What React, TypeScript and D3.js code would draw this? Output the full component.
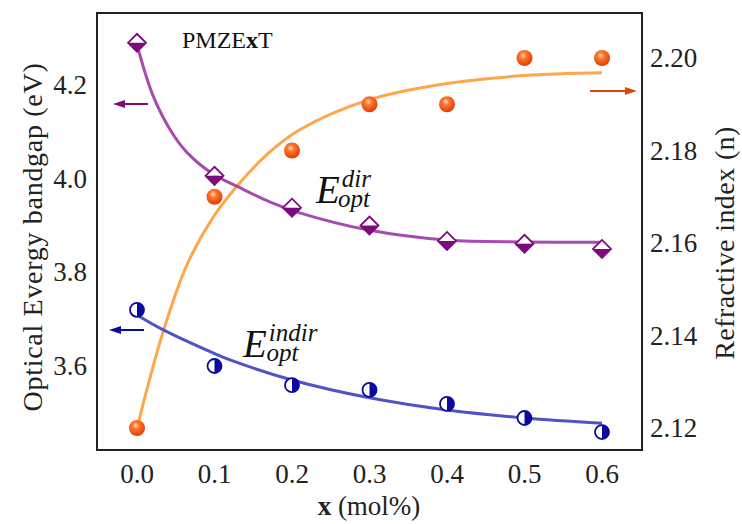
import React from "react";
import * as d3 from "d3";

// measured points
const xs = [0, 0.1, 0.2, 0.3, 0.4, 0.5, 0.6];
const eDir = [4.29, 4.006, 3.938, 3.9, 3.867, 3.861, 3.85];
const eIndir = [3.72, 3.6, 3.559, 3.549, 3.519, 3.489, 3.459];
const refIdx = [2.12, 2.17, 2.18, 2.19, 2.19, 2.2, 2.2];

// fitted curves
const dirFitX = [0, 0.02, 0.043, 0.065, 0.098, 0.13, 0.172, 0.21, 0.297, 0.4, 0.5, 0.6];
const dirFitY = [4.286, 4.18, 4.104, 4.055, 4.01, 3.983, 3.95, 3.927, 3.891, 3.869, 3.865, 3.864];
const indirFitX = [0, 0.034, 0.098, 0.12, 0.2, 0.3, 0.4, 0.5, 0.6];
const indirFitY = [3.709, 3.677, 3.628, 3.613, 3.57, 3.532, 3.506, 3.489, 3.478];
const refFitX = [0, 0.034, 0.065, 0.1, 0.13, 0.17, 0.21, 0.3, 0.4, 0.5, 0.6];
const refFitY = [2.12, 2.141, 2.1555, 2.166, 2.1725, 2.1795, 2.1845, 2.191, 2.1945, 2.1962, 2.1968];

const xTicks = [0, 0.1, 0.2, 0.3, 0.4, 0.5, 0.6];
const leftTicks = [3.6, 3.8, 4.0, 4.2];
const rightTicks = [2.12, 2.14, 2.16, 2.18, 2.2];

const W = 742;
const H = 524;
const frame = { left: 97, top: 13, right: 642, bottom: 450 };

const x = d3.scaleLinear().domain([0, 0.6]).range([137, 602]);
const yL = d3.scaleLinear().domain([3.6, 4.2]).range([366, 85]);
const yR = d3.scaleLinear().domain([2.12, 2.2]).range([428, 58]);

const tf = { fontFamily: '"Liberation Serif", "Times New Roman", serif' };

const Diamond = ({ cx, cy }: { cx: number; cy: number }) => {
  const w = 9;
  const h = 9;
  return (
    <g transform={`translate(${cx},${cy})`}>
      <path d={`M${-w},0L0,${-h}L${w},0Z`} fill="#fff" />
      <path d={`M${-w},0L0,${h}L${w},0Z`} fill="#7d0a7d" />
      <path d={`M${-w},0L0,${-h}L${w},0L0,${h}Z`} fill="none" stroke="#7d0a7d" strokeWidth={1.8} />
    </g>
  );
};

const HalfCircle = ({ cx, cy }: { cx: number; cy: number }) => {
  const r = 7;
  return (
    <g transform={`translate(${cx},${cy})`}>
      <circle r={r} fill="#fff" stroke="#0a0aa0" strokeWidth={1.8} />
      <path d={`M0,${-r}A${r},${r} 0 0 1 0,${r}Z`} fill="#0a0aa0" />
    </g>
  );
};

const Arrow = ({ x1, x2, y, color }: { x1: number; x2: number; y: number; color: string }) => {
  const dir = Math.sign(x2 - x1);
  return (
    <g>
      <line x1={x1} x2={x2 - dir * 8} y1={y} y2={y} stroke={color} strokeWidth={2} />
      <path d={`M${x2},${y}L${x2 - dir * 12},${y - 4}L${x2 - dir * 12},${y + 4}Z`} fill={color} />
    </g>
  );
};

// E with stacked superscript / subscript, as one text element
const ELabel = ({ x0, y0, sup, subShift }: { x0: number; y0: number; sup: string; subShift: number }) => (
  <text x={x0} y={y0} fontSize={39} fontStyle="italic" fill="#111" style={tf}>
    E
    <tspan fontSize={25} dx={2} dy={-16}>{sup}</tspan>
    <tspan fontSize={25} dx={subShift} dy={20}>opt</tspan>
  </text>
);

export default function App() {
  const lineL = d3
    .line<[number, number]>()
    .x((d) => x(d[0]))
    .y((d) => yL(d[1]))
    .curve(d3.curveCatmullRom);
  const lineR = d3
    .line<[number, number]>()
    .x((d) => x(d[0]))
    .y((d) => yR(d[1]))
    .curve(d3.curveCatmullRom);

  const dirFit = dirFitX.map((v, i) => [v, dirFitY[i]] as [number, number]);
  const indirFit = indirFitX.map((v, i) => [v, indirFitY[i]] as [number, number]);
  const refFit = refFitX.map((v, i) => [v, refFitY[i]] as [number, number]);

  return (
    <svg width={W} height={H} style={{ position: "absolute", left: 0, top: 0, background: "#fff" }}>
      <defs>
        <radialGradient id="ball" cx="42%" cy="35%" r="65%">
          <stop offset="0%" stopColor="#ffe2cc" />
          <stop offset="30%" stopColor="#ff7a30" />
          <stop offset="100%" stopColor="#e23c00" />
        </radialGradient>
      </defs>

      {/* fits */}
      <path d={lineR(refFit) || ""} fill="none" stroke="#ffa54a" strokeWidth={3} />
      <path d={lineL(dirFit) || ""} fill="none" stroke="#a64cb0" strokeWidth={3} />
      <path d={lineL(indirFit) || ""} fill="none" stroke="#5252c8" strokeWidth={3} />

      {/* markers */}
      {xs.map((v, i) => (
        <circle key={"r" + i} cx={x(v)} cy={yR(refIdx[i])} r={8} fill="url(#ball)" />
      ))}
      {xs.map((v, i) => (
        <Diamond key={"d" + i} cx={x(v)} cy={yL(eDir[i])} />
      ))}
      {xs.map((v, i) => (
        <HalfCircle key={"c" + i} cx={x(v)} cy={yL(eIndir[i])} />
      ))}

      {/* frame */}
      <rect
        x={frame.left}
        y={frame.top}
        width={frame.right - frame.left}
        height={frame.bottom - frame.top}
        fill="none"
        stroke="#222"
        strokeWidth={2}
      />

      {/* tick labels */}
      {xTicks.map((t) => (
        <text key={"x" + t} x={x(t)} y={483} textAnchor="middle" fontSize={27} fill="#222" style={tf}>
          {t.toFixed(1)}
        </text>
      ))}
      {leftTicks.map((t) => (
        <text key={"l" + t} x={87} y={yL(t) + 9} textAnchor="end" fontSize={27} fill="#222" style={tf}>
          {t.toFixed(1)}
        </text>
      ))}
      {rightTicks.map((t) => (
        <text key={"rt" + t} x={650} y={yR(t) + 9} textAnchor="start" fontSize={27} fill="#222" style={tf}>
          {t.toFixed(2)}
        </text>
      ))}

      {/* axis titles */}
      <text x={369} y={515} textAnchor="middle" fontSize={27} fill="#222" style={tf}>
        <tspan fontWeight="bold">x</tspan> (mol%)
      </text>
      <text
        transform={`translate(42,237) rotate(-90)`}
        textAnchor="middle"
        fontSize={28}
        letterSpacing={0.7}
        fill="#222"
        style={tf}
      >
        Optical Evergy bandgap (eV)
      </text>
      <text
        transform={`translate(734,243) rotate(-90)`}
        textAnchor="middle"
        fontSize={28}
        letterSpacing={0.4}
        fill="#222"
        style={tf}
      >
        Refractive index (n)
      </text>

      {/* annotations */}
      <text x={182} y={48} fontSize={24} fill="#111" style={tf}>
        PMZE<tspan fontWeight="bold">x</tspan>T
      </text>
      <ELabel x0={316} y0={203} sup="dir" subShift={-32} />
      <ELabel x0={243} y0={357} sup="indir" subShift={-50} />

      <Arrow x1={148} x2={113} y={104} color="#7d0a7d" />
      <Arrow x1={144} x2={109} y={330} color="#0a0aa0" />
      <Arrow x1={590} x2={637} y={91} color="#d8480e" />
    </svg>
  );
}
